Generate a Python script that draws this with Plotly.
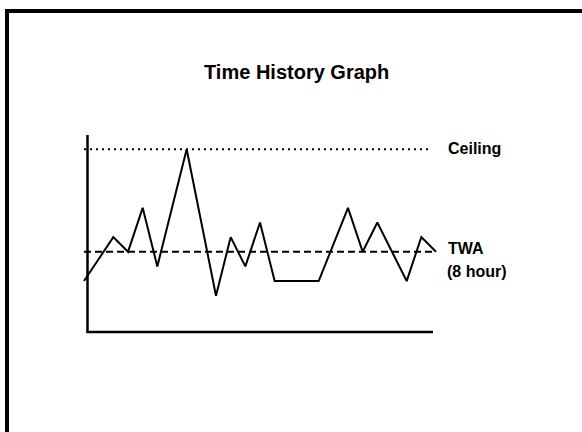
import plotly.graph_objects as go

# Data
time_idx = [0, 2, 3, 4, 5, 7, 9, 10, 11, 12, 13, 16, 18, 19, 20, 22, 23, 24]
level = [2, 5, 4, 7, 3, 11, 1, 5, 3, 6, 2, 2, 7, 4, 6, 2, 5, 4]
ceiling_value = 11
twa_value = 4
ceiling_span = [0, 23.5]
twa_span = [0, 24]
title_text = "Time History Graph"
ceiling_label = "Ceiling"
twa_label = "TWA"
twa_sub_label = "(8 hour)"

W, H = 582, 432
FONT = "Arial, Liberation Sans, sans-serif"

def px(x):
    return x / W

def py(y):
    return 1 - y / H

fig = go.Figure()

fig.add_trace(go.Scatter(
    x=ceiling_span, y=[ceiling_value, ceiling_value], mode="lines",
    line=dict(color="black", width=2, dash="2px,4px"), hoverinfo="skip"))
fig.add_trace(go.Scatter(
    x=twa_span, y=[twa_value, twa_value], mode="lines",
    line=dict(color="black", width=2, dash="7px,4px"), hoverinfo="skip"))
fig.add_trace(go.Scatter(
    x=time_idx, y=level, mode="lines",
    line=dict(color="black", width=2)))

shapes = [
    # frame border (extends past the right and bottom edges)
    dict(type="path", xref="paper", yref="paper",
         path=f"M {px(7)} {py(440)} L {px(7)} {py(11)} L {px(590)} {py(11)}",
         line=dict(color="black", width=4)),
    # y axis
    dict(type="line", xref="paper", yref="paper",
         x0=px(87.5), x1=px(87.5), y0=py(135), y1=py(333),
         line=dict(color="black", width=2.5)),
    # x axis
    dict(type="line", xref="paper", yref="paper",
         x0=px(86.5), x1=px(433), y0=py(332), y1=py(332),
         line=dict(color="black", width=2.5)),
]

annotations = [
    dict(text=f"<b>{title_text}</b>", xref="paper", yref="paper",
         x=px(296.5), y=py(72), xanchor="center", yanchor="middle",
         showarrow=False, font=dict(family=FONT, size=20, color="black")),
    dict(text=f"<b>{ceiling_label}</b>", xref="paper", yref="paper",
         x=px(446), y=py(148), xanchor="left", yanchor="middle",
         showarrow=False, font=dict(family=FONT, size=16, color="black")),
    dict(text=f"<b>{twa_label}</b>", xref="paper", yref="paper",
         x=px(446), y=py(249), xanchor="left", yanchor="middle",
         showarrow=False, font=dict(family=FONT, size=16, color="black")),
    dict(text=f"<b>{twa_sub_label}</b>", xref="paper", yref="paper",
         x=px(445), y=py(271), xanchor="left", yanchor="middle",
         showarrow=False, font=dict(family=FONT, size=16, color="black")),
]

x_unit = 352 / 24.0
y_unit = (295.7 - 149.3) / 10.0
x0_px = 84.0
y0_px = 295.7 + y_unit

fig.update_layout(
    width=W, height=H,
    margin=dict(l=0, r=0, t=0, b=0),
    paper_bgcolor="white", plot_bgcolor="white",
    showlegend=False,
    hovermode=False,
    xaxis=dict(range=[-x0_px / x_unit, (W - x0_px) / x_unit],
               visible=False, showgrid=False, zeroline=False, fixedrange=True),
    yaxis=dict(range=[(y0_px - H) / y_unit, y0_px / y_unit],
               visible=False, showgrid=False, zeroline=False, fixedrange=True),
    shapes=shapes,
    annotations=annotations,
)

fig.write_html(
    "out.html",
    config={"displayModeBar": False, "staticPlot": True},
    post_script="document.body.style.margin='0px';document.body.style.overflow='hidden';",
)
